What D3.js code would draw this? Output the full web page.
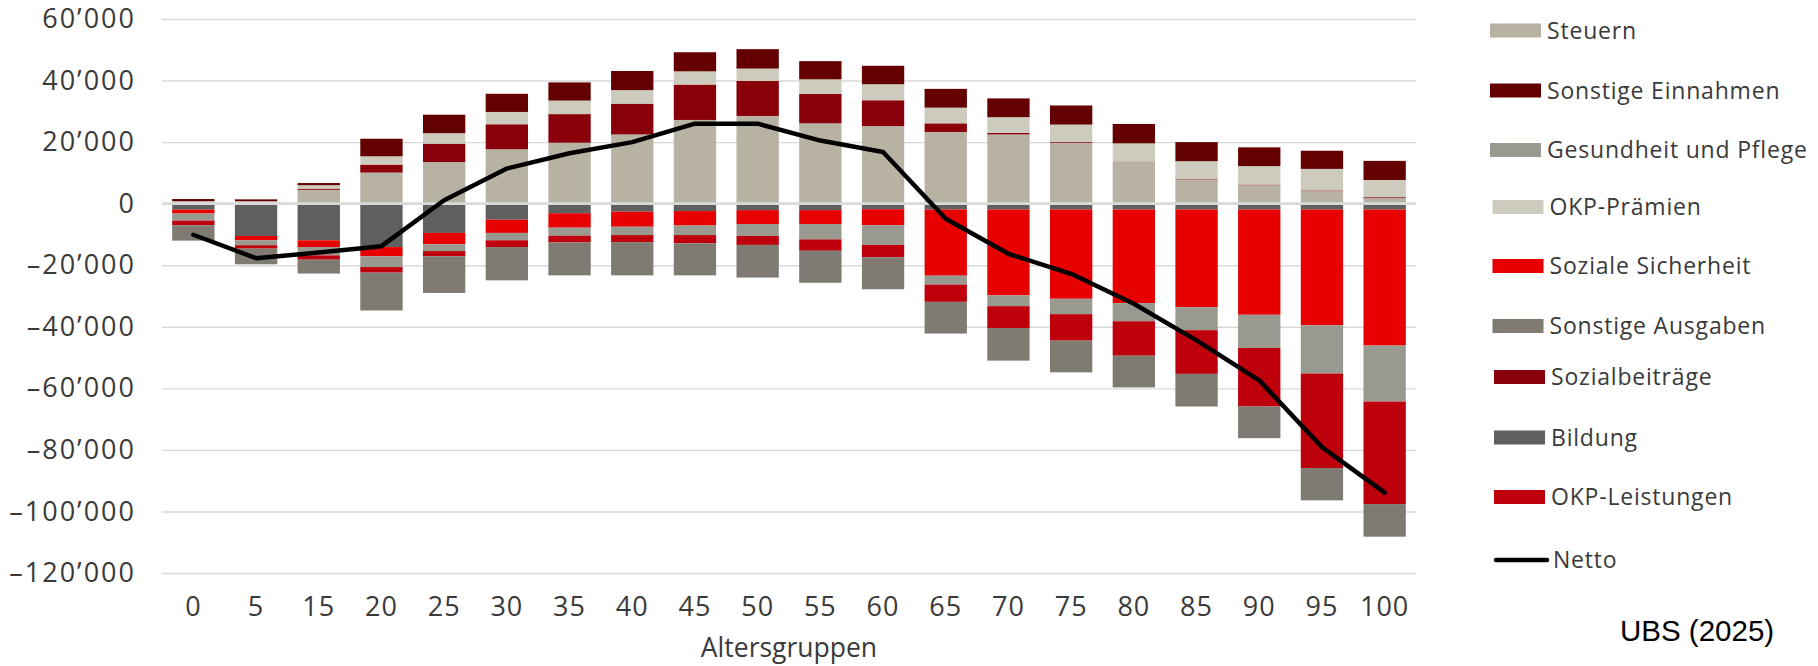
<!DOCTYPE html>
<html>
<head>
<meta charset="utf-8">
<script src="https://cdn.jsdelivr.net/npm/d3@7"></script>
<style>
  html, body { margin: 0; padding: 0; background: #ffffff; }
  svg { display: block; }
</style>
</head>
<body>
<svg id="chart" width="1818" height="666"></svg>
<script>
// ---------- DATA (CHF per person, by age group) ----------
const ages = ["0","5","15","20","25","30","35","40","45","50","55","60","65","70","75","80","85","90","95","100"];

// Einnahmen (positive)
const steuern            = [300, 300, 4500, 10100, 13500, 17700, 19800, 22500, 27200, 28500, 26100, 25200, 23300, 22500, 19800, 13600, 7900, 6000, 4100, 1800];
const sozialbeitraege    = [0, 0, 400, 2600, 6000, 8100, 9300, 10000, 11500, 11400, 9600, 8400, 2800, 500, 300, 100, 200, 200, 200, 300];
const okpPraemien        = [500, 500, 1100, 2700, 3400, 4000, 4400, 4400, 4300, 4000, 4700, 5200, 5100, 5100, 5600, 5900, 5700, 6000, 7000, 5600];
const sonstigeEinnahmen  = [700, 600, 700, 5700, 6000, 5900, 5900, 6200, 6200, 6300, 5900, 6000, 6100, 6100, 6200, 6300, 6200, 6100, 5900, 6200];

// Ausgaben (negative)
const bildung            = [-1900, -10500, -11900, -14100, -9500, -5200, -3100, -2600, -2400, -2100, -2100, -1800, -1900, -1900, -1900, -1900, -1900, -1900, -1900, -1900];
const sozialeSicherheit  = [-1300, -1400, -2200, -3000, -3700, -4300, -4700, -4900, -4700, -4500, -4500, -5200, -21500, -27900, -29000, -30400, -31700, -34200, -37600, -44200];
const gesundheitPflege   = [-2300, -1600, -2700, -3500, -2200, -2400, -2600, -2700, -3100, -3900, -5000, -6400, -2900, -3500, -5000, -5900, -7500, -10800, -15700, -18200];
const okpLeistungen      = [-1500, -1100, -1400, -1800, -1700, -2200, -2200, -2300, -2700, -2900, -3700, -4000, -5600, -7100, -8600, -11200, -14200, -19000, -30700, -33300];
const sonstigeAusgaben   = [-5000, -5100, -4500, -12300, -11900, -10800, -10700, -10800, -10400, -10600, -10400, -10400, -10300, -10600, -10300, -10300, -10600, -10300, -10500, -10600];

// Netto line
const netto              = [-10100, -17700, -15900, -13800, 1100, 11400, 16400, 20000, 26000, 26000, 20500, 16800, -4900, -16300, -22800, -32500, -44400, -57400, -79100, -93900];

// Y axis ticks
const yTicks = [60000, 40000, 20000, 0, -20000, -40000, -60000, -80000, -100000, -120000];

// Series definitions (legend order)
const seriesNames  = ["Steuern", "Sonstige Einnahmen", "Gesundheit und Pflege", "OKP-Prämien", "Soziale Sicherheit", "Sonstige Ausgaben", "Sozialbeiträge", "Bildung", "OKP-Leistungen"];
const seriesValues = [steuern, sonstigeEinnahmen, gesundheitPflege, okpPraemien, sozialeSicherheit, sonstigeAusgaben, sozialbeitraege, bildung, okpLeistungen];
const seriesColors = ["#b8b2a2", "#640000", "#9a9990", "#cdcbbe", "#e60000", "#7f7b73", "#8a000a", "#5f5f5f", "#bd000c"];
// stacking order (bottom-up positives, top-down negatives)
const stackOrder = ["Steuern", "Sozialbeiträge", "OKP-Prämien", "Sonstige Einnahmen",
                    "Bildung", "Soziale Sicherheit", "Gesundheit und Pflege", "OKP-Leistungen", "Sonstige Ausgaben"];

// ---------- LAYOUT ----------
const plot = { left: 162, right: 1416, top: 19, bottom: 573 };
const textColor = "#3a3a3a";
const font = "'Open Sans', 'Noto Sans', sans-serif";

const svg = d3.select("#chart");

const rows = ages.map((a, i) => {
  const r = { age: a };
  seriesNames.forEach((n, k) => { r[n] = seriesValues[k][i]; });
  return r;
});

const x = d3.scaleBand().domain(ages).range([plot.left, plot.right]).paddingInner(0.325).paddingOuter(0.1625);
const y = d3.scaleLinear().domain([-120000, 60000]).range([plot.bottom, plot.top]);
const color = d3.scaleOrdinal().domain(seriesNames).range(seriesColors);

const loc = d3.formatLocale({ decimal: ".", thousands: "\u2019", grouping: [3], currency: ["", ""], minus: "\u2013" });
const fmt = loc.format(",d");

// gridlines
const yAxis = d3.axisLeft(y).tickValues(yTicks).tickSize(-(plot.right - plot.left)).tickFormat(fmt).tickPadding(26);
const gy = svg.append("g").attr("transform", `translate(${plot.left},0)`).call(yAxis);
gy.select(".domain").remove();
gy.selectAll(".tick line").attr("stroke", "#d9d9d9").attr("stroke-width", 1.4);
gy.selectAll(".tick text").attr("fill", textColor).style("font-family", font)
  .style("font-size", "27px").style("letter-spacing", "2px");

// stacked bars
const stack = d3.stack().keys(stackOrder).offset(d3.stackOffsetDiverging);
const stacked = stack(rows);

svg.append("g").selectAll("g").data(stacked).join("g")
  .attr("fill", d => color(d.key))
  .selectAll("rect").data(d => d).join("rect")
  .attr("x", d => x(d.data.age))
  .attr("width", x.bandwidth())
  .attr("y", d => y(Math.max(d[0], d[1])))
  .attr("height", d => Math.abs(y(d[0]) - y(d[1])));

// zero line on top
svg.append("line")
  .attr("x1", plot.left).attr("x2", plot.right)
  .attr("y1", y(0)).attr("y2", y(0))
  .attr("stroke", "#d9d9d9").attr("stroke-width", 2.6);

// Netto line
const line = d3.line().x((d, i) => x(ages[i]) + x.bandwidth() / 2).y(d => y(d));
svg.append("path").datum(netto)
  .attr("d", line)
  .attr("fill", "none").attr("stroke", "#000").attr("stroke-width", 4.5)
  .attr("stroke-linejoin", "round").attr("stroke-linecap", "round");

// x axis labels
const xAxis = d3.axisBottom(x).tickSize(0).tickPadding(0);
const gx = svg.append("g").attr("transform", `translate(0,${plot.bottom + 43})`).call(xAxis);
gx.select(".domain").remove();
gx.selectAll(".tick text").attr("fill", textColor).attr("dy", 0)
  .style("font-family", font).style("font-size", "27px").style("letter-spacing", "1px");

svg.append("text")
  .attr("x", (plot.left + plot.right) / 2).attr("y", 657)
  .attr("text-anchor", "middle").attr("fill", textColor)
  .style("font-family", font).style("font-size", "26.5px")
  .text("Altersgruppen");

// legend
const legendY  = [30.5, 90.5, 150, 207, 266, 326, 377, 437.5, 497, 560];
const legendX  = [1490, 1490, 1490, 1492.5, 1492.5, 1492.5, 1494, 1494, 1494, 1494];
const legendFont = { size: "23px", spacing: "0.8px" };
const lg = svg.append("g");
seriesNames.forEach((n, i) => {
  lg.append("rect").attr("x", legendX[i]).attr("y", legendY[i] - 7).attr("width", 51).attr("height", 14).attr("fill", color(n));
  lg.append("text").attr("x", legendX[i] + 57).attr("y", legendY[i]).attr("dy", "0.35em")
    .attr("fill", textColor).style("font-family", font)
    .style("font-size", legendFont.size).style("letter-spacing", legendFont.spacing).text(n);
});
lg.append("line").attr("x1", legendX[9] + 2).attr("x2", legendX[9] + 53)
  .attr("y1", legendY[9]).attr("y2", legendY[9])
  .attr("stroke", "#000").attr("stroke-width", 4.5).attr("stroke-linecap", "round");
lg.append("text").attr("x", legendX[9] + 59).attr("y", legendY[9]).attr("dy", "0.35em")
  .attr("fill", textColor).style("font-family", font)
  .style("font-size", legendFont.size).style("letter-spacing", legendFont.spacing).text("Netto");

svg.append("text").attr("x", 1620).attr("y", 641)
  .attr("fill", "#000").style("font-family", "'Liberation Sans', Arial, sans-serif").style("font-size", "29.5px")
  .text("UBS (2025)");
</script>
</body>
</html>
